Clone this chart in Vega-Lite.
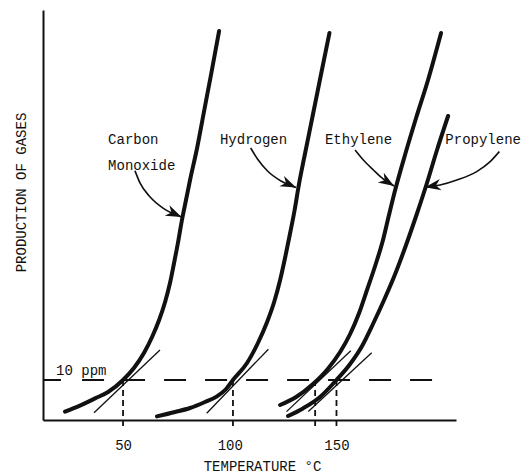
{
  "$schema": "https://vega.github.io/schema/vega-lite/v6.json",
  "width": 413,
  "height": 410,
  "autosize": {"type": "none"},
  "padding": {"left": 43, "top": 10, "right": 75, "bottom": 54},
  "background": "white",
  "config": {"view": {"stroke": null}, "font": "Liberation Mono"},
  "encoding": {
    "x": {
      "field": "t", "type": "quantitative",
      "scale": {"domain": [12.5, 206], "nice": false, "zero": false},
      "axis": {
        "values": [50, 100, 150], "ticks": false, "grid": false,
        "domainColor": "#111", "domainWidth": 2,
        "labelFont": "Liberation Mono", "labelFontSize": 14, "labelColor": "#111", "labelPadding": 18,
        "title": "TEMPERATURE °C", "titleFont": "Liberation Mono", "titleFontSize": 14,
        "titleFontWeight": "normal", "titleColor": "#111",
        "titleX": 219, "titleY": 50, "titleAlign": "center", "titleBaseline": "alphabetic"
      }
    },
    "y": {
      "field": "v", "type": "quantitative",
      "scale": {"domain": [0, 102.5], "nice": false, "zero": false},
      "axis": {
        "labels": false, "ticks": false, "grid": false,
        "domainColor": "#111", "domainWidth": 2,
        "title": "PRODUCTION OF GASES", "titleFont": "Liberation Mono", "titleFontSize": 14,
        "titleFontWeight": "normal", "titleColor": "#111",
        "titleX": -22, "titleY": 182, "titleAngle": -90, "titleAlign": "center", "titleBaseline": "middle"
      }
    }
  },
  "layer": [
    {
      "data": {"values": [
        {"g": "co", "t": 22.8, "v": 2.1}, {"g": "co", "t": 29.8, "v": 3.6}, {"g": "co", "t": 36.9, "v": 5.4},
        {"g": "co", "t": 43.0, "v": 7.0}, {"g": "co", "t": 50.0, "v": 10}, {"g": "co", "t": 55.1, "v": 13},
        {"g": "co", "t": 59.8, "v": 16.75}, {"g": "co", "t": 63.6, "v": 20.75}, {"g": "co", "t": 66.9, "v": 25},
        {"g": "co", "t": 69.7, "v": 29.5}, {"g": "co", "t": 72.0, "v": 34.25}, {"g": "co", "t": 73.9, "v": 39.25},
        {"g": "co", "t": 75.8, "v": 44.5}, {"g": "co", "t": 77.6, "v": 50}, {"g": "co", "t": 79.5, "v": 55},
        {"g": "co", "t": 81.4, "v": 60}, {"g": "co", "t": 84.7, "v": 68}, {"g": "co", "t": 87.9, "v": 77},
        {"g": "co", "t": 91.2, "v": 86.25}, {"g": "co", "t": 95.0, "v": 97.25},
        {"g": "h", "t": 65.9, "v": 0.9}, {"g": "h", "t": 74.4, "v": 2}, {"g": "h", "t": 81.4, "v": 3},
        {"g": "h", "t": 88.4, "v": 4.5}, {"g": "h", "t": 94.0, "v": 5.9}, {"g": "h", "t": 98.3, "v": 7.75},
        {"g": "h", "t": 101.5, "v": 10}, {"g": "h", "t": 108.1, "v": 14.25}, {"g": "h", "t": 113.2, "v": 19.25},
        {"g": "h", "t": 117.5, "v": 24.5}, {"g": "h", "t": 120.8, "v": 29.5}, {"g": "h", "t": 123.6, "v": 35},
        {"g": "h", "t": 125.9, "v": 40.5}, {"g": "h", "t": 128.2, "v": 46.5}, {"g": "h", "t": 130.4, "v": 52.5},
        {"g": "h", "t": 132.2, "v": 58.25}, {"g": "h", "t": 135.7, "v": 67.75}, {"g": "h", "t": 139.2, "v": 77},
        {"g": "h", "t": 142.7, "v": 86.25}, {"g": "h", "t": 146.7, "v": 96.75},
        {"g": "e", "t": 123.6, "v": 3.75}, {"g": "e", "t": 131.1, "v": 5.75}, {"g": "e", "t": 139.0, "v": 9},
        {"g": "e", "t": 146.1, "v": 12.9}, {"g": "e", "t": 151.7, "v": 17}, {"g": "e", "t": 156.4, "v": 21.5},
        {"g": "e", "t": 160.6, "v": 26.75}, {"g": "e", "t": 164.3, "v": 32.5}, {"g": "e", "t": 168.1, "v": 38.5},
        {"g": "e", "t": 171.8, "v": 45}, {"g": "e", "t": 174.6, "v": 51.25}, {"g": "e", "t": 177.5, "v": 57.5},
        {"g": "e", "t": 182.1, "v": 66.25}, {"g": "e", "t": 187.3, "v": 75.5}, {"g": "e", "t": 192.9, "v": 85},
        {"g": "e", "t": 199.0, "v": 96.75},
        {"g": "p", "t": 127.3, "v": 1.0}, {"g": "p", "t": 134.3, "v": 2.9}, {"g": "p", "t": 142.3, "v": 5.75},
        {"g": "p", "t": 150.0, "v": 10}, {"g": "p", "t": 156.4, "v": 14}, {"g": "p", "t": 162.0, "v": 18.5},
        {"g": "p", "t": 167.1, "v": 24}, {"g": "p", "t": 172.3, "v": 30}, {"g": "p", "t": 177.5, "v": 36.5},
        {"g": "p", "t": 182.6, "v": 43.75}, {"g": "p", "t": 187.8, "v": 51.75}, {"g": "p", "t": 192.4, "v": 59.25},
        {"g": "p", "t": 197.1, "v": 67.5}, {"g": "p", "t": 202.3, "v": 76}
      ]},
      "mark": {"type": "line", "color": "#111", "strokeWidth": 4, "interpolate": "monotone", "strokeCap": "round", "clip": false},
      "encoding": {"detail": {"field": "g", "type": "nominal"}}
    },
    {
      "data": {"values": [
        {"g": "co", "t": 36.4, "v": 1.8}, {"g": "co", "t": 67.3, "v": 17.5},
        {"g": "h", "t": 89.2, "v": 1.7}, {"g": "h", "t": 118.1, "v": 17.7},
        {"g": "e", "t": 126.6, "v": 2.1}, {"g": "e", "t": 156.7, "v": 17.3},
        {"g": "p", "t": 136.8, "v": 2.1}, {"g": "p", "t": 166.5, "v": 16.8}
      ]},
      "mark": {"type": "line", "color": "#111", "strokeWidth": 1.3, "clip": false},
      "encoding": {"detail": {"field": "g", "type": "nominal"}}
    },
    {
      "data": {"values": [{"t": 30.8, "t2": 194.8, "v": 10}]},
      "mark": {"type": "rule", "color": "#111", "strokeWidth": 2, "strokeDash": [22, 19], "clip": false},
      "encoding": {"x2": {"field": "t2"}}
    },
    {
      "data": {"values": [{"t": 12.5, "t2": 20.9, "v": 10}]},
      "mark": {"type": "rule", "color": "#111", "strokeWidth": 2, "clip": false},
      "encoding": {"x2": {"field": "t2"}}
    },
    {
      "data": {"values": [
        {"t": 50, "v": 10, "v2": -1.75},
        {"t": 101.5, "v": 10, "v2": -1.75},
        {"t": 140, "v": 10, "v2": -1.75},
        {"t": 150, "v": 10, "v2": -1.75}
      ]},
      "mark": {"type": "rule", "color": "#111", "strokeWidth": 1.8, "strokeDash": [6, 4], "clip": false},
      "encoding": {"y2": {"field": "v2"}}
    },
    {
      "data": {"values": [
        {"g": "co", "t": 55.6, "v": 62.3}, {"g": "co", "t": 58.0, "v": 59.2}, {"g": "co", "t": 62.6, "v": 55.8},
        {"g": "co", "t": 68.9, "v": 52.9}, {"g": "co", "t": 77.4, "v": 50.75},
        {"g": "h", "t": 109.8, "v": 68}, {"g": "h", "t": 113.0, "v": 65.25}, {"g": "h", "t": 117.7, "v": 62.25},
        {"g": "h", "t": 124.0, "v": 59.75}, {"g": "h", "t": 131.1, "v": 58.1},
        {"g": "e", "t": 158.7, "v": 67.5}, {"g": "e", "t": 162.6, "v": 65}, {"g": "e", "t": 167.3, "v": 62.5},
        {"g": "e", "t": 172.0, "v": 60.2}, {"g": "e", "t": 177.0, "v": 58.5},
        {"g": "p", "t": 191.5, "v": 58.2}, {"g": "p", "t": 198.5, "v": 58.75}, {"g": "p", "t": 206.4, "v": 60},
        {"g": "p", "t": 215.7, "v": 62.1}, {"g": "p", "t": 222.0, "v": 64.6}, {"g": "p", "t": 226.3, "v": 67.1}
      ]},
      "mark": {"type": "line", "color": "#111", "strokeWidth": 1.6, "interpolate": "monotone", "clip": false},
      "encoding": {"detail": {"field": "g", "type": "nominal"}}
    },
    {
      "data": {"values": [
        {"t": 77.4, "v": 50.75, "a": 24},
        {"t": 131.1, "v": 58.1, "a": 24},
        {"t": 177.0, "v": 58.5, "a": 32},
        {"t": 191.5, "v": 58.2, "a": 171}
      ]},
      "mark": {"type": "point", "shape": "M0,0L-1,-0.36L-0.7,0L-1,0.36Z", "filled": true, "color": "#111", "opacity": 1, "size": 1000, "clip": false},
      "encoding": {"angle": {"field": "a", "type": "quantitative", "scale": null}}
    },
    {
      "data": {"values": [
        {"label": "Carbon", "t": 43.0, "v": 69},
        {"label": "Monoxide", "t": 43.0, "v": 62.5},
        {"label": "Hydrogen", "t": 95.4, "v": 69},
        {"label": "Ethylene", "t": 144.6, "v": 69},
        {"label": "Propylene", "t": 201.0, "v": 69},
        {"label": "10 ppm", "t": 18.6, "v": 11.25}
      ]},
      "mark": {"type": "text", "align": "left", "baseline": "alphabetic", "font": "Liberation Mono", "fontSize": 14, "color": "#111", "clip": false},
      "encoding": {"text": {"field": "label"}}
    }
  ]
}
